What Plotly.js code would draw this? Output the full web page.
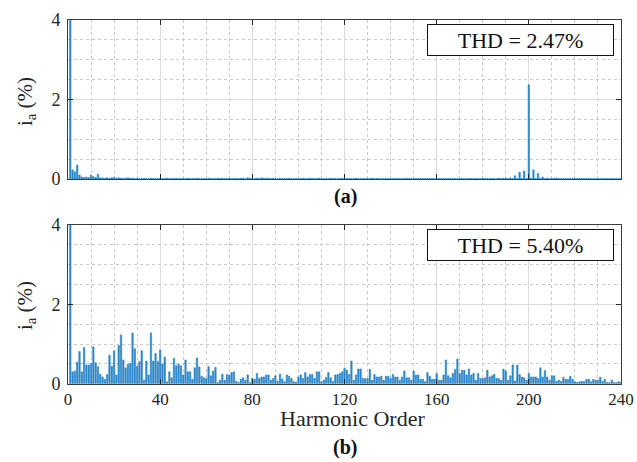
<!DOCTYPE html>
<html>
<head>
<meta charset="utf-8">
<script src="https://cdn.plot.ly/plotly-3.0.1.min.js"></script>
<style>html,body{margin:0;padding:0;background:#fff;}#chart{width:637px;height:462px;}</style>
</head>
<body>
<div id="chart"></div>
<script>
// Harmonic orders 1..240 (category axis)
var harmonics = [];
for (var k = 1; k <= 240; k++) harmonics.push(k);

// (a) phase current spectrum, % of fundamental (h = 1..240)
var ia_a = [
 100, 0.23, 0.18, 0.35, 0.10, 0.05, 0.04, 0.05, 0.04, 0.10, 0.06, 0.04, 0.12, 0.03, 0.03, 0.02, 0.03, 0.02, 0.03, 0.04,
 0.02, 0.03, 0.02, 0.02, 0.02, 0.03, 0.02, 0.02, 0.01, 0.02, 0.01, 0.01, 0.02, 0.01, 0.01, 0.02, 0.01, 0.01, 0.01, 0.02,
 0.01, 0.01, 0.02, 0.01, 0.01, 0.01, 0.02, 0.01, 0.01, 0.01, 0.01, 0.02, 0.01, 0.01, 0.01, 0.02, 0.01, 0.01, 0.01, 0.01,
 0.02, 0.01, 0.01, 0.01, 0.02, 0.01, 0.02, 0.01, 0.01, 0.02, 0.01, 0.02, 0.01, 0.01, 0.02, 0.02, 0.01, 0.03, 0.02, 0.01,
 0.01, 0.02, 0.01, 0.03, 0.02, 0.01, 0.02, 0.01, 0.02, 0.01, 0.01, 0.02, 0.01, 0.01, 0.01, 0.02, 0.01, 0.01, 0.01, 0.01,
 0.01, 0.02, 0.01, 0.01, 0.02, 0.01, 0.01, 0.01, 0.02, 0.01, 0.01, 0.01, 0.01, 0.02, 0.01, 0.01, 0.01, 0.01, 0.02, 0.01,
 0.01, 0.01, 0.01, 0.01, 0.02, 0.01, 0.01, 0.01, 0.01, 0.01, 0.01, 0.02, 0.01, 0.01, 0.01, 0.01, 0.01, 0.01, 0.01, 0.01,
 0.01, 0.01, 0.01, 0.01, 0.01, 0.01, 0.02, 0.01, 0.01, 0.01, 0.01, 0.01, 0.01, 0.01, 0.01, 0.01, 0.01, 0.01, 0.01, 0.01,
 0.01, 0.01, 0.01, 0.01, 0.01, 0.01, 0.01, 0.01, 0.01, 0.01, 0.01, 0.01, 0.01, 0.01, 0.01, 0.01, 0.01, 0.01, 0.01, 0.01,
 0.01, 0.01, 0.01, 0.01, 0.01, 0.01, 0.02, 0.01, 0.02, 0.02, 0.01, 0.03, 0.01, 0.08, 0.01, 0.17, 0.01, 0.20, 0.01, 2.37,
 0.02, 0.23, 0.01, 0.14, 0.01, 0.05, 0.01, 0.02, 0.01, 0.01, 0.01, 0.03, 0.01, 0.01, 0.01, 0.01, 0.01, 0.01, 0.01, 0.01,
 0.01, 0.01, 0.01, 0.01, 0.01, 0.01, 0.01, 0.01, 0.01, 0.01, 0.01, 0.01, 0.01, 0.01, 0.01, 0.01, 0.01, 0.01, 0.01, 0.01
];

// (b) phase current spectrum, % of fundamental (h = 1..240)
var ia_b = [
 100, 0.30, 0.32, 0.54, 0.81, 0.30, 0.91, 0.47, 0.47, 0.51, 0.93, 0.53, 0.43, 0.24, 0.17, 0.11, 0.23, 0.72, 0.44, 0.83,
 0.22, 0.96, 1.23, 0.60, 0.40, 0.49, 0.51, 1.28, 0.88, 0.44, 0.56, 0.83, 0.09, 0.57, 0.22, 1.28, 0.57, 0.76, 0.56, 0.85,
 0.50, 0.67, 0.05, 0.30, 0.15, 0.64, 0.45, 0.49, 0.45, 0.22, 0.60, 0.30, 0.30, 0.11, 0.40, 0.65, 0.42, 0.19, 0.15, 0.13,
 0.43, 0.20, 0.32, 0.41, 0.03, 0.09, 0.24, 0.09, 0.23, 0.22, 0.28, 0.30, 0.06, 0.03, 0.11, 0.15, 0.09, 0.22, 0.03, 0.13,
 0.11, 0.26, 0.13, 0.17, 0.17, 0.22, 0.22, 0.09, 0.13, 0.20, 0.06, 0.24, 0.12, 0.05, 0.22, 0.19, 0.13, 0.05, 0.04, 0.17,
 0.22, 0.13, 0.28, 0.17, 0.23, 0.23, 0.13, 0.30, 0.30, 0.05, 0.09, 0.16, 0.28, 0.15, 0.06, 0.22, 0.23, 0.26, 0.30, 0.39,
 0.34, 0.23, 0.57, 0.09, 0.22, 0.37, 0.37, 0.13, 0.13, 0.13, 0.36, 0.09, 0.23, 0.17, 0.17, 0.19, 0.09, 0.19, 0.19, 0.13,
 0.23, 0.17, 0.17, 0.09, 0.17, 0.32, 0.15, 0.15, 0.09, 0.32, 0.22, 0.22, 0.11, 0.11, 0.05, 0.28, 0.19, 0.11, 0.11, 0.26,
 0.09, 0.09, 0.22, 0.60, 0.20, 0.15, 0.26, 0.36, 0.62, 0.26, 0.34, 0.34, 0.22, 0.37, 0.22, 0.26, 0.09, 0.26, 0.13, 0.13,
 0.15, 0.34, 0.17, 0.20, 0.24, 0.13, 0.13, 0.09, 0.37, 0.32, 0.09, 0.20, 0.47, 0.07, 0.47, 0.23, 0.17, 0.15, 0.09, 0.26,
 0.17, 0.17, 0.17, 0.13, 0.40, 0.17, 0.33, 0.17, 0.09, 0.20, 0.20, 0.06, 0.09, 0.06, 0.16, 0.11, 0.11, 0.19, 0.11, 0.05,
 0.03, 0.05, 0.06, 0.05, 0.11, 0.11, 0.05, 0.11, 0.09, 0.09, 0.16, 0.06, 0.11, 0.03, 0.03, 0.09, 0.03, 0.03, 0.05, 0.03
];

var thdLabels = ['THD = 2.47%', 'THD = 5.40%'];
var panelLabels = ['<b>(a)</b>', '<b>(b)</b>'];
var xTickVals = [0, 40, 80, 120, 160, 200, 240];
var yTickVals = [0, 2, 4];

var W = 637, H = 462;
function px(x) { return x / W; }
function py(y) { return 1 - y / H; }

var FONT = 'Liberation Serif, Times New Roman, serif';
var barStyle = {color: '#3a8fd1', line: {color: '#0b72bb', width: 0.5}};

var traces = [
  {type: 'bar', x: harmonics, y: ia_a, xaxis: 'x', yaxis: 'y', width: 0.62, marker: barStyle, hoverinfo: 'x+y'},
  {type: 'bar', x: harmonics, y: ia_b, xaxis: 'x2', yaxis: 'y2', width: 0.62, marker: barStyle, hoverinfo: 'x+y'}
];

function xax(showLabels, anchor) {
  return {
    domain: [px(68), px(621)], anchor: anchor, range: [0, 240],
    tickmode: 'array', tickvals: xTickVals, showticklabels: showLabels,
    ticks: 'inside', ticklen: 5, tickcolor: '#262626', tickwidth: 1,
    showline: true, linecolor: '#3c3c3c', linewidth: 1, mirror: 'ticks',
    showgrid: true, gridcolor: '#dcdcdc', gridwidth: 1, zeroline: false,
    minor: {dtick: 10, tick0: 0, showgrid: true, gridcolor: '#c9c9c9', griddash: 'dot', gridwidth: 1, ticks: ''},
    tickfont: {family: FONT, size: 17, color: '#262626'},
    ticklabelstandoff: 0
  };
}
function yax(dom, anchor) {
  return {
    domain: dom, anchor: anchor, range: [0, 4],
    tickmode: 'array', tickvals: yTickVals,
    ticks: 'inside', ticklen: 5, tickcolor: '#262626', tickwidth: 1,
    showline: true, linecolor: '#3c3c3c', linewidth: 1, mirror: 'ticks',
    showgrid: true, gridcolor: '#dcdcdc', gridwidth: 1, zeroline: false,
    minor: {dtick: 0.5, tick0: 0, showgrid: true, gridcolor: '#c9c9c9', griddash: 'dot', gridwidth: 1, ticks: ''},
    tickfont: {family: FONT, size: 18, color: '#262626'},
    ticklabelstandoff: 3
  };
}

var annotations = [
  {xref: 'paper', yref: 'paper', x: px(520.5), y: py(40), text: thdLabels[0], showarrow: false,
   font: {family: FONT, size: 22, color: '#111'}, bordercolor: '#111', borderwidth: 1, bgcolor: '#fff',
   width: 183, height: 28, borderpad: 1, xanchor: 'center', yanchor: 'middle'},
  {xref: 'paper', yref: 'paper', x: px(520.5), y: py(245), text: thdLabels[1], showarrow: false,
   font: {family: FONT, size: 22, color: '#111'}, bordercolor: '#111', borderwidth: 1, bgcolor: '#fff',
   width: 183, height: 28, borderpad: 1, xanchor: 'center', yanchor: 'middle'},
  {xref: 'paper', yref: 'paper', x: px(345), y: py(196), text: panelLabels[0], showarrow: false,
   font: {family: FONT, size: 20, color: '#111'}, xanchor: 'center', yanchor: 'middle'},
  {xref: 'paper', yref: 'paper', x: px(345), y: py(447), text: panelLabels[1], showarrow: false,
   font: {family: FONT, size: 20, color: '#111'}, xanchor: 'center', yanchor: 'middle'},
  {xref: 'paper', yref: 'paper', x: px(352), y: py(418), text: 'Harmonic Order', showarrow: false,
   font: {family: FONT, size: 22, color: '#262626'}, xanchor: 'center', yanchor: 'middle'},
  {xref: 'paper', yref: 'paper', x: px(26), y: py(101), text: 'i<sub>a</sub> (%)', showarrow: false, textangle: -90,
   font: {family: FONT, size: 21, color: '#262626'}, xanchor: 'center', yanchor: 'middle'},
  {xref: 'paper', yref: 'paper', x: px(26), y: py(305), text: 'i<sub>a</sub> (%)', showarrow: false, textangle: -90,
   font: {family: FONT, size: 21, color: '#262626'}, xanchor: 'center', yanchor: 'middle'}
];

var layout = {
  width: W, height: H,
  margin: {l: 0, r: 0, t: 0, b: 0},
  paper_bgcolor: '#fff', plot_bgcolor: '#fff',
  showlegend: false, barmode: 'overlay',
  xaxis: xax(false, 'y'),
  yaxis: yax([py(179), py(20)], 'x'),
  xaxis2: xax(true, 'y2'),
  yaxis2: yax([py(383.7), py(225)], 'x2'),
  annotations: annotations,
  font: {family: FONT}
};

Plotly.newPlot('chart', traces, layout, {staticPlot: true, displayModeBar: false});
</script>
</body>
</html>
